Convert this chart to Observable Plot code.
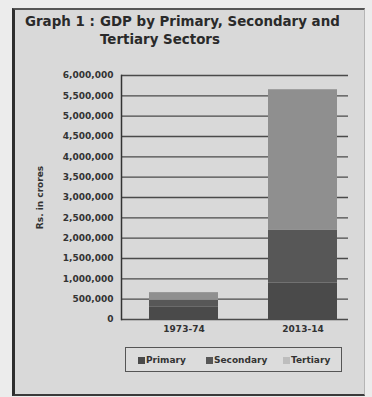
<!DOCTYPE html>
<html><head><meta charset="utf-8">
<script src="https://cdn.jsdelivr.net/npm/d3@7"></script>
<script src="https://cdn.jsdelivr.net/npm/@observablehq/plot@0.6"></script>
<style>
html,body{margin:0;padding:0;}
body{width:372px;height:397px;background:#ececec;position:relative;overflow:hidden;font-family:"DejaVu Sans",sans-serif;}
#frame{position:absolute;left:12px;top:8px;width:349px;height:384px;background:#d9d9d9;border-left:3px solid #2e2e2e;border-top:2px solid #555;border-bottom:2px solid #3a3a3a;border-right:1px solid #b5b5b5;}
#title{position:absolute;left:25px;top:13px;font-weight:bold;font-size:13.4px;color:#2a2a2a;line-height:18px;display:flex;}
#title .lead{width:75px;}
#chart{position:absolute;left:0;top:60px;}
#legend{position:absolute;left:125px;top:347px;width:215px;height:23px;border:1.5px solid #555;background:#dcdcdc;display:flex;align-items:center;font-size:9px;font-weight:bold;color:#333;}
#legend .item{display:flex;align-items:center;position:absolute;top:7px;}
#legend .sw{width:7px;height:7px;margin-right:1px;display:inline-block;}
</style></head>
<body>
<div id="frame"></div>
<div id="title"><span class="lead">Graph 1 :</span><span>GDP by Primary, Secondary and<br>Tertiary Sectors</span></div>
<div id="chart"></div>
<div id="legend"></div>
<script>
const years = ["1973-74", "2013-14"];
const sectors = ["Primary", "Secondary", "Tertiary"];
const primary = [300000, 900000];
const secondary = [170000, 1290000];
const tertiary = [190000, 3460000];
const yTicks = [0, 500000, 1000000, 1500000, 2000000, 2500000, 3000000, 3500000, 4000000, 4500000, 5000000, 5500000, 6000000];
const colors = ["#4a4a4a", "#575757", "#8f8f8f"];
const legendColors = ["#4a4a4a", "#575757", "#bdbdbd"];
const legendX = [12, 80, 157];

const series = [primary, secondary, tertiary];
const data = [];
years.forEach((yr, i) => sectors.forEach((s, j) => data.push({year: yr, sector: s, value: series[j][i]})));

const chart = Plot.plot({
  width: 372, height: 280,
  marginTop: 15, marginBottom: 21, marginLeft: 121, marginRight: 24,
  style: {background: "transparent", fontFamily: "DejaVu Sans", fontSize: "9px", fontWeight: "bold", color: "#333"},
  x: {domain: years, paddingInner: 0.4167, paddingOuter: 0.1542, align: 0.73},
  y: {domain: [0, 6000000]},
  color: {domain: sectors, range: colors},
  marks: [
    Plot.ruleY(yTicks, {stroke: "#4a4a4a", strokeWidth: 1.4}),
    Plot.barY(data, {x: "year", y: "value", fill: "sector", order: sectors}),
    Plot.frame({anchor: "left", stroke: "#333", strokeWidth: 1.5}),
    Plot.axisY(yTicks, {tickSize: 0, tickPadding: 8, tickFormat: d3.format(","), label: "Rs. in crores", labelAnchor: "center", labelArrow: "none", labelOffset: 85, fontSize: 9}),
    Plot.axisX({tickSize: 0, tickPadding: 6, label: null, fontSize: 9})
  ]
});
document.getElementById("chart").appendChild(chart);

const leg = document.getElementById("legend");
sectors.forEach((s, i) => {
  const it = document.createElement("div");
  it.className = "item";
  it.style.left = legendX[i] + "px";
  it.innerHTML = `<span class="sw" style="background:${legendColors[i]}"></span><span>${s}</span>`;
  leg.appendChild(it);
});
</script>
</body></html>
